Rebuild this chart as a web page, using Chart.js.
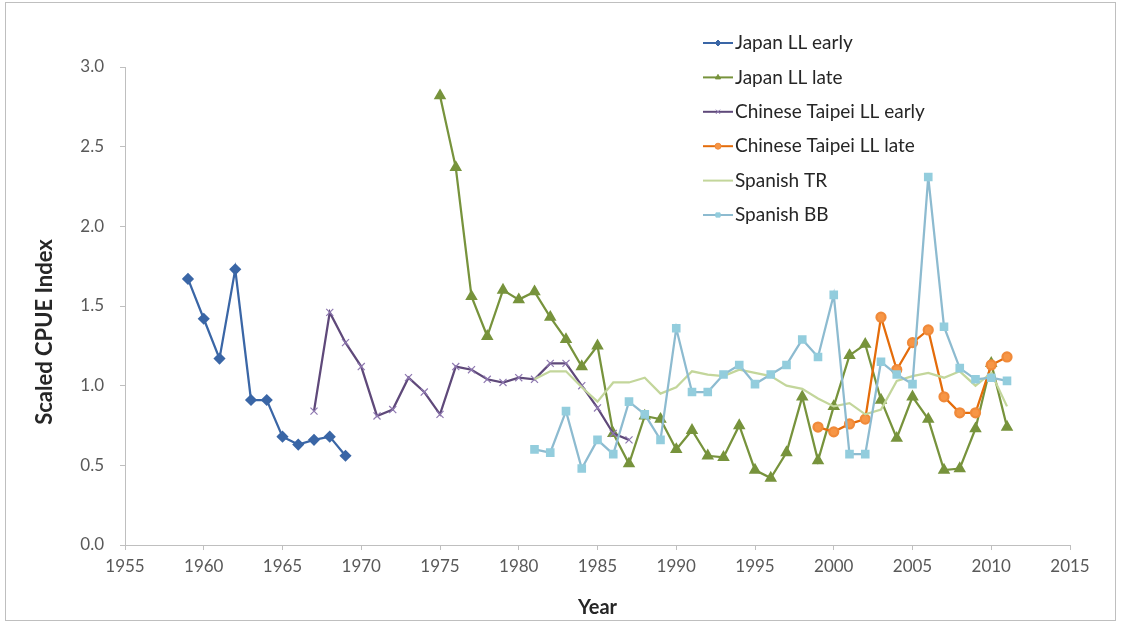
<!DOCTYPE html>
<html>
<head>
<meta charset="utf-8">
<script src="https://cdn.jsdelivr.net/npm/chart.js@4"></script>
<style>
  html, body { margin: 0; padding: 0; background: #fff; }
  #wrap { position: relative; width: 1121px; height: 628px; }
  #frame { position: absolute; left: 5px; top: 2px; width: 1109px; height: 617px; border: 1px solid #BFBFBF; pointer-events: none; }
</style>
</head>
<body>
<div id="wrap">
  <canvas id="cpueChart" width="1121" height="628"></canvas>
  <div id="frame"></div>
</div>
<script>
// series data: first year + consecutive yearly values
const jpEarlyStart = 1959;
const jpEarly = [1.67, 1.42, 1.17, 1.73, 0.91, 0.91, 0.68, 0.63, 0.66, 0.68, 0.56];

const jpLateStart = 1975;
const jpLate = [2.82, 2.37, 1.56, 1.31, 1.60, 1.54, 1.59, 1.43, 1.29, 1.12,
                1.25, 0.70, 0.51, 0.81, 0.79, 0.60, 0.72, 0.56, 0.55, 0.75,
                0.47, 0.42, 0.58, 0.93, 0.53, 0.87, 1.19, 1.26, 0.91, 0.67,
                0.93, 0.79, 0.47, 0.48, 0.73, 1.14, 0.74];

const ctEarlyStart = 1967;
const ctEarly = [0.84, 1.46, 1.27, 1.12, 0.81, 0.85, 1.05, 0.96, 0.82, 1.12,
                 1.10, 1.04, 1.02, 1.05, 1.04, 1.14, 1.14, 1.00, 0.86, 0.70,
                 0.66];

const ctLateStart = 1999;
const ctLate = [0.74, 0.71, 0.76, 0.79, 1.43, 1.10, 1.27, 1.35, 0.93, 0.83, 0.83, 1.13, 1.18];

const spTRStart = 1981;
const spTR = [1.04, 1.09, 1.09, 0.99, 0.90, 1.02, 1.02, 1.05, 0.95, 0.99,
              1.09, 1.07, 1.06, 1.10, 1.08, 1.06, 1.00, 0.98, 0.92, 0.87,
              0.89, 0.82, 0.85, 1.03, 1.06, 1.08, 1.05, 1.09, 1.00, 1.08,
              0.87];

const spBBStart = 1981;
const spBB = [0.60, 0.58, 0.84, 0.48, 0.66, 0.57, 0.90, 0.82, 0.66, 1.36,
              0.96, 0.96, 1.07, 1.13, 1.01, 1.07, 1.13, 1.29, 1.18, 1.57,
              0.57, 0.57, 1.15, 1.07, 1.01, 2.31, 1.37, 1.11, 1.04, 1.05,
              1.03];

const seriesNames = ['Japan LL early', 'Japan LL late', 'Chinese Taipei LL early',
                     'Chinese Taipei LL late', 'Spanish TR', 'Spanish BB'];
const yTitle = 'Scaled CPUE Index';

function toPoints(start, values) {
  return values.map((v, i) => ({ x: start + i, y: v }));
}

const FONT = 'Lato, "Open Sans", "DejaVu Sans", sans-serif';

const datasets = [
  { label: seriesNames[0], data: toPoints(jpEarlyStart, jpEarly),
    borderColor: '#3A66A6', backgroundColor: '#3A66A6',
    pointStyle: 'rectRot', pointRadius: 4.5 },
  { label: seriesNames[1], data: toPoints(jpLateStart, jpLate),
    borderColor: '#77933C', backgroundColor: '#77933C',
    pointStyle: 'triangle', pointRadius: 5 },
  { label: seriesNames[2], data: toPoints(ctEarlyStart, ctEarly),
    borderColor: '#5F497A', backgroundColor: '#8064A2',
    pointBorderColor: '#8E78B0', pointStyle: 'crossRot', pointRadius: 5, pointBorderWidth: 1.2 },
  { label: seriesNames[3], data: toPoints(ctLateStart, ctLate),
    borderColor: '#E46C0A', backgroundColor: '#F79646',
    pointBorderColor: '#F08A3A', pointStyle: 'circle', pointRadius: 4.5 },
  { label: seriesNames[4], data: toPoints(spTRStart, spTR),
    borderColor: '#C3D69B', backgroundColor: '#C3D69B',
    pointRadius: 0 },
  { label: seriesNames[5], data: toPoints(spBBStart, spBB),
    borderColor: '#8DBBD0', backgroundColor: '#93CDDD',
    pointBorderColor: '#93CDDD', pointStyle: 'rect', pointRadius: 4.5 }
];
// Excel draws later series on top
datasets.forEach((d, i) => {
  d.borderWidth = 2.25;
  d.tension = 0;
  d.order = datasets.length - i;
  d.pointHoverRadius = d.pointRadius;
});

// legend drawn by hand: line + marker + text, like the spreadsheet legend
const lineLegend = {
  id: 'lineLegend',
  afterDraw(chart) {
    const ctx = chart.ctx;
    const x0 = 703, x1 = 733, textX = 735, y0 = 43, step = 34.4;
    datasets.forEach((d, i) => {
      const y = y0 + i * step;
      ctx.save();
      ctx.strokeStyle = d.borderColor;
      ctx.lineWidth = 2;
      ctx.beginPath();
      ctx.moveTo(x0, y);
      ctx.lineTo(x1, y);
      ctx.stroke();
      if (d.pointRadius > 0 && Chart.helpers && Chart.helpers.drawPoint) {
        ctx.fillStyle = d.backgroundColor;
        ctx.strokeStyle = d.pointBorderColor || d.borderColor;
        ctx.lineWidth = 1;
        Chart.helpers.drawPoint(ctx, { pointStyle: d.pointStyle, radius: 3, rotation: 0, borderWidth: 1 }, (x0 + x1) / 2, y);
      }
      ctx.fillStyle = '#262626';
      ctx.font = '19px ' + FONT;
      ctx.textBaseline = 'middle';
      ctx.textAlign = 'left';
      ctx.fillText(d.label, textX, y);
      ctx.restore();
    });

    // y axis title sits a bit below the plot centre, as in the original
    ctx.save();
    ctx.translate(45, 332);
    ctx.rotate(-Math.PI / 2);
    ctx.fillStyle = '#262626';
    ctx.font = 'bold 22px ' + FONT;
    ctx.textAlign = 'center';
    ctx.textBaseline = 'middle';
    ctx.fillText(yTitle, 0, 0);
    ctx.restore();
  }
};

new Chart(document.getElementById('cpueChart'), {
  type: 'line',
  data: { datasets: datasets },
  plugins: [lineLegend],
  options: {
    responsive: false,
    animation: false,
    layout: { padding: { left: 0, top: 67, right: 51, bottom: 0 } },
    plugins: {
      legend: { display: false },
      tooltip: { enabled: false }
    },
    scales: {
      x: {
        type: 'linear',
        min: 1955, max: 2015,
        ticks: { stepSize: 5, color: '#595959', font: { family: FONT, size: 17 }, padding: 6,
                 callback: v => String(v) },
        grid: { drawOnChartArea: false, drawTicks: true, tickLength: 5, color: '#BFBFBF' },
        border: { color: '#BFBFBF', width: 1 },
        title: { display: true, text: 'Year', color: '#262626',
                 font: { family: FONT, size: 20, weight: 'bold' }, padding: { top: 0, bottom: 8 } },
        afterFit: s => { s.height = 83; }
      },
      y: {
        min: 0, max: 3,
        ticks: { stepSize: 0.5, color: '#595959', font: { family: FONT, size: 17 }, padding: 16,
                 callback: v => v.toFixed(1) },
        grid: { drawOnChartArea: false, drawTicks: true, tickLength: 5, color: '#BFBFBF' },
        border: { color: '#BFBFBF', width: 1 },
        title: { display: false },
        afterFit: s => { s.width = 125; }
      }
    }
  }
});
</script>
</body>
</html>
